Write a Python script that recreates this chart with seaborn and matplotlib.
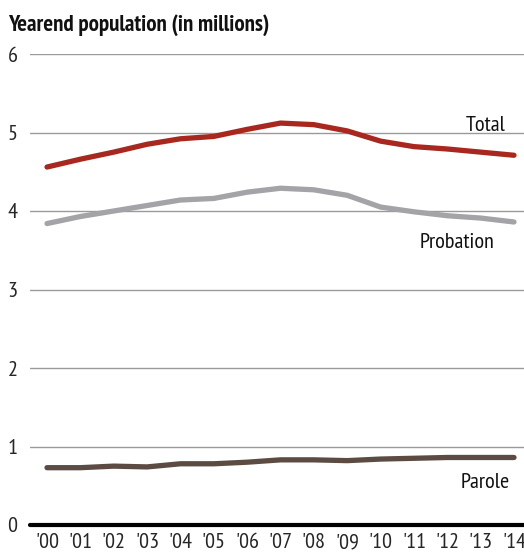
import matplotlib
matplotlib.use("Agg")
import matplotlib.pyplot as plt
import seaborn as sns
import pandas as pd

years = ["'00", "'01", "'02", "'03", "'04", "'05", "'06", "'07", "'08", "'09", "'10", "'11", "'12", "'13", "'14"]
total = [4.56, 4.66, 4.75, 4.85, 4.92, 4.95, 5.04, 5.12, 5.10, 5.02, 4.89, 4.82, 4.79, 4.75, 4.71]
probation = [3.84, 3.93, 4.00, 4.07, 4.14, 4.16, 4.24, 4.29, 4.27, 4.20, 4.05, 3.99, 3.94, 3.91, 3.86]
parole = [0.73, 0.73, 0.75, 0.74, 0.78, 0.78, 0.80, 0.83, 0.83, 0.82, 0.84, 0.85, 0.86, 0.86, 0.86]
yticks = [0, 1, 2, 3, 4, 5, 6]

sns.set_theme(style="white")
plt.rcParams['font.family'] = ['PT Sans Narrow', 'DejaVu Sans']

df = pd.DataFrame({"x": list(range(len(years))) * 3,
                   "value": total + probation + parole,
                   "series": ["Total"] * len(years) + ["Probation"] * len(years) + ["Parole"] * len(years)})
palette = {"Total": "#a8281f", "Probation": "#a3a3a8", "Parole": "#5b4b43"}

fig = plt.figure(figsize=(5.24, 5.53), dpi=100)
ax = fig.add_axes([30 / 524, 28 / 553, 494 / 524, 471 / 553])
for y in yticks[1:]:
    ax.axhline(y, color="#9a9a9a", lw=1.0, zorder=0)
sns.lineplot(data=df, x="x", y="value", hue="series", palette=palette, lw=3.8,
             legend=False, ax=ax, zorder=3)
ax.axhline(0, color="black", lw=3.0, zorder=4, clip_on=False)

ax.set_xlim(-0.51, 14.3)
ax.set_ylim(0, 6)
ax.set_xticks(range(len(years)))
ax.set_xticklabels(years, fontsize=16)
ax.set_yticks(yticks)
ax.set_yticklabels([str(v) for v in yticks], fontsize=16)
ax.tick_params(axis="both", length=0, pad=6)
ax.tick_params(axis="y", pad=9)
for s in ax.spines.values():
    s.set_visible(False)
ax.set_xlabel("")
ax.set_ylabel("")

ax.text(13.15, total[13] + 0.22, "Total", fontsize=16, ha="center", va="bottom", color="#111111")
ax.text(12.3, probation[12] - 0.34, "Probation", fontsize=16, ha="center", va="center", color="#111111")
ax.text(13.15, parole[12] - 0.32, "Parole", fontsize=16, ha="center", va="center", color="#111111")

fig.text(8 / 524, 1 - 25 / 553, "Yearend population (in millions)", fontsize=16.5, fontweight="bold",
         ha="left", va="center", color="#111111")

fig.savefig("out.png", dpi=100)
